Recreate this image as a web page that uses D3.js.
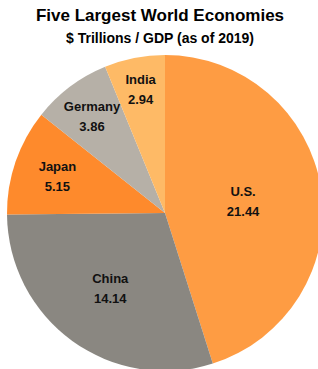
<!DOCTYPE html>
<html>
<head>
<meta charset="utf-8">
<script src="https://cdn.jsdelivr.net/npm/d3@7"></script>
<style>
  body { margin: 0; background: #fff; }
  svg { display: block; font-family: "Liberation Sans", Arial, sans-serif; }
</style>
</head>
<body>
<div id="chart"></div>
<script>
// Chart data
const countries = ["U.S.", "China", "Japan", "Germany", "India"];
const gdp = [21.44, 14.14, 5.15, 3.86, 2.94];
const colors = ["#fe9c43", "#8a8781", "#fe8a2c", "#b6b0a7", "#feba66"];

const width = 318, height = 369;
const cx = 165, cy = 213, radius = 158;

// label distance from center, as a fraction of the radius
const labelRadius = [0.5, 0.59, 0.72, 0.77, 0.8];

const svg = d3.select("#chart")
    .append("svg")
    .attr("width", width)
    .attr("height", height);

// Title
svg.append("text")
    .attr("x", 160)
    .attr("y", 21)
    .attr("text-anchor", "middle")
    .attr("font-size", 17)
    .attr("font-weight", "bold")
    .text("Five Largest World Economies");

svg.append("text")
    .attr("x", 160)
    .attr("y", 43)
    .attr("text-anchor", "middle")
    .attr("font-size", 14)
    .attr("font-weight", "bold")
    .text("$ Trillions / GDP (as of 2019)");

const data = countries.map((c, i) => ({ name: c, value: gdp[i], i: i }));

const pie = d3.pie()
    .value(d => d.value)
    .sort(null);

const arc = d3.arc()
    .innerRadius(0)
    .outerRadius(radius);

const g = svg.append("g")
    .attr("transform", `translate(${cx},${cy})`);

const arcs = pie(data);

g.selectAll("path")
    .data(arcs)
    .enter().append("path")
    .attr("d", arc)
    .attr("fill", d => colors[d.data.i]);

// Labels: name + value
const label = g.selectAll("g.label")
    .data(arcs)
    .enter().append("g")
    .attr("class", "label")
    .attr("transform", d => {
        const r = radius * labelRadius[d.data.i];
        const a = (d.startAngle + d.endAngle) / 2;
        return `translate(${r * Math.sin(a)},${-r * Math.cos(a)})`;
    });

label.append("text")
    .attr("text-anchor", "middle")
    .attr("y", -5)
    .attr("font-size", 13)
    .attr("font-weight", "bold")
    .attr("fill", "#111")
    .text(d => d.data.name);

label.append("text")
    .attr("text-anchor", "middle")
    .attr("y", 15)
    .attr("font-size", 13)
    .attr("font-weight", "bold")
    .attr("fill", "#111")
    .text(d => d3.format(".2f")(d.data.value));
</script>
</body>
</html>
